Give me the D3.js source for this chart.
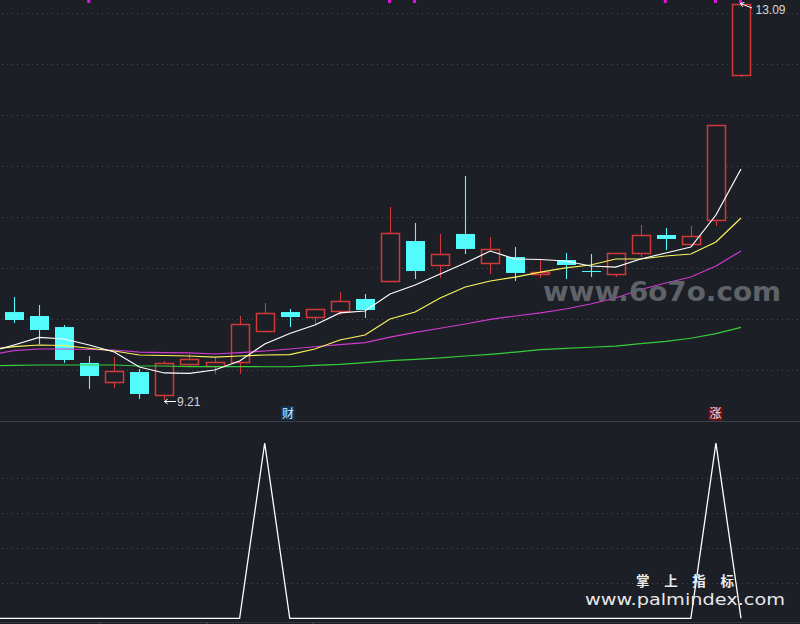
<!DOCTYPE html>
<html><head><meta charset="utf-8">
<script src="https://cdn.jsdelivr.net/npm/d3@7/dist/d3.min.js"></script>
<style>html,body{margin:0;padding:0;background:#1c1f26;overflow:hidden}svg{display:block}</style>
</head><body><svg id="c" width="800" height="624"></svg>
<script>
const opens  = [10.072,10.033,9.925,9.573,9.386,9.484,9.259,9.563,9.543,9.582,9.886,10.072,10.023,10.082,10.200,10.376,10.768,10.533,10.837,10.553,10.611,10.445,10.582,10.474,10.445,10.651,10.827,10.739,10.974,12.395];
const highs  = [10.219,10.141,9.945,9.641,9.631,9.514,9.592,9.661,9.622,10.033,10.161,10.102,10.102,10.268,10.249,11.101,10.945,10.837,11.405,10.807,10.709,10.582,10.651,10.641,10.651,10.925,10.896,10.915,11.905,13.09];
const lows   = [9.965,9.759,9.573,9.318,9.328,9.220,9.21,9.543,9.465,9.465,9.886,9.925,9.945,10.043,10.014,10.376,10.396,10.406,10.641,10.445,10.376,10.406,10.396,10.415,10.415,10.611,10.680,10.719,10.915,12.375];
const closes = [9.994,9.896,9.602,9.445,9.494,9.269,9.573,9.612,9.582,9.955,10.063,10.023,10.102,10.180,10.092,10.847,10.474,10.641,10.690,10.690,10.455,10.464,10.533,10.469,10.651,10.827,10.788,10.817,11.905,13.09];
const ups    = [0,0,0,0,1,0,1,1,1,1,1,0,1,1,0,1,0,1,0,1,0,1,0,0,1,1,0,1,1,1];
// moving averages start one session before the first visible candle
const ma5  = [9.680,9.749,9.823,9.808,9.749,9.680,9.533,9.475,9.470,9.504,9.592,9.759,9.862,9.945,10.063,10.082,10.249,10.337,10.445,10.553,10.670,10.592,10.587,10.572,10.523,10.513,10.592,10.651,10.709,11.023,11.474];
const ma10 = [9.700,9.734,9.749,9.744,9.717,9.690,9.651,9.646,9.641,9.631,9.641,9.651,9.654,9.710,9.798,9.847,10.004,10.072,10.210,10.317,10.376,10.415,10.464,10.504,10.533,10.592,10.592,10.621,10.641,10.758,10.994];
const ma20 = [9.651,9.693,9.710,9.710,9.705,9.700,9.680,9.674,9.671,9.661,9.674,9.690,9.710,9.732,9.752,9.772,9.827,9.873,9.913,9.955,10.001,10.033,10.063,10.102,10.151,10.210,10.293,10.357,10.415,10.523,10.670];
const ma60 = [9.543,9.550,9.553,9.553,9.553,9.553,9.543,9.543,9.538,9.538,9.538,9.536,9.536,9.550,9.560,9.576,9.595,9.609,9.622,9.641,9.658,9.680,9.703,9.715,9.727,9.738,9.762,9.785,9.815,9.860,9.922];
const signal = [0,0,0,0,0,0,0,0,0,0,0,100,0,0,0,0,0,0,0,0,0,0,0,0,0,0,0,0,0,100,0];
const priceTicks = [9.5,10,10.5,11,11.5,12,12.5,13];
const signalTicks = [20,40,60,80];
const topMarks = [3,15,16,26,28,29];
const timeTicks = [3.41,7.68,11.9];
const lowLabel = "9.21", highLabel = "13.09";
const badgeCai = "财", badgeZhang = "涨";
const mark1 = "www.6o7o.com", mark2 = "掌 上 指 标", mark3 = "www.palmindex.com";

const svg = d3.select("#c");
const W = 800, H = 624;
const x = d3.scaleLinear().domain([0,29]).range([14.5,741.5]);
const y = d3.scaleLinear().domain([9.0042,13.13]).range([421,0]);
const y2 = d3.scaleLinear().domain([0,100]).range([618.3,443]);
const n = i => Math.round(i)+0.5;
svg.append("rect").attr("width",W).attr("height",H).attr("fill","#1c1f26");

const gridStyle = s => s.attr("stroke","#474b54").attr("stroke-width",1).attr("stroke-dasharray","1 4");
svg.selectAll(".g1").data(priceTicks).join("line").attr("x1",2).attr("x2",W)
  .attr("y1",d=>n(y(d))).attr("y2",d=>n(y(d))).call(gridStyle);
svg.selectAll(".g2").data(signalTicks).join("line").attr("x1",2).attr("x2",W)
  .attr("y1",d=>n(y2(d))).attr("y2",d=>n(y2(d))).call(gridStyle);

svg.append("line").attr("x1",0).attr("x2",W).attr("y1",421.5).attr("y2",421.5).attr("stroke","#3d404c").attr("stroke-width",1.2);
svg.append("line").attr("x1",0).attr("x2",W).attr("y1",622.5).attr("y2",622.5).attr("stroke","#33363f").attr("stroke-width",1);
svg.selectAll(".tt").data(timeTicks).join("line").attr("x1",d=>x(d)).attr("x2",d=>x(d)).attr("y1",622).attr("y2",624).attr("stroke","#4a4d58");

svg.selectAll(".tm").data(topMarks).join("rect").attr("x",d=>x(d)-2.5).attr("y",0).attr("width",3).attr("height",3).attr("fill","#e810e8");

const RED="#d03a3a", CY="#52fbfc";
const cg = svg.append("g");
d3.range(30).forEach(i=>{
  const col = ups[i]?RED:CY, cx = Math.floor(x(i))+0.5;
  const top = Math.max(opens[i],closes[i]), bot = Math.min(opens[i],closes[i]);
  cg.append("line").attr("x1",cx).attr("x2",cx).attr("y1",y(highs[i])).attr("y2",y(lows[i])).attr("stroke",col).attr("stroke-width",1.1);
  const bh = Math.max(y(bot)-y(top),1);
  if(ups[i]) cg.append("rect").attr("x",cx-9).attr("y",Math.round(y(top))+0.5).attr("width",18).attr("height",Math.round(bh))
     .attr("fill","#1c1f26").attr("stroke",col).attr("stroke-width",1.5);
  else cg.append("rect").attr("x",cx-9.5).attr("y",y(top)).attr("width",19).attr("height",bh).attr("fill",col);
});

const line = (scale)=>d3.line().x((d,i)=>x(i-1)-0.5).y(d=>scale(d));
[[ma60,"#35cf3a"],[ma20,"#cf3acf"],[ma10,"#fbf55a"],[ma5,"#ffffff"]].forEach(([a,c])=>{
  svg.append("path").attr("d",line(y)(a)).attr("fill","none").attr("stroke",c).attr("stroke-width",1.2);
});
svg.append("path").attr("d",line(y2)(signal)).attr("fill","none").attr("stroke","#ffffff").attr("stroke-width",1.3);

// extreme price labels
function arrow(x1,y1,x2,y2){
  const a=Math.atan2(y2-y1,x2-x1), L=4;
  svg.append("path").attr("fill","none").attr("stroke","#fff").attr("stroke-width",1)
    .attr("d",`M${x1},${y1}L${x2},${y2}M${x2+L*Math.cos(a+2.5)},${y2+L*Math.sin(a+2.5)}L${x2},${y2}L${x2+L*Math.cos(a-2.5)},${y2+L*Math.sin(a-2.5)}`);
}
arrow(176,401.5,x(6)-0.5,401.5);
arrow(752,8,x(29)-1,3.5);
const lab=(t,tx,ty,o)=>svg.append("text").attr("x",tx).attr("y",ty).attr("fill",o.fill).attr("font-size",o.size)
  .attr("font-family",o.font||"'Liberation Sans',sans-serif").attr("font-weight",o.weight||"normal").attr("text-anchor",o.anchor||"start")
  .attr("letter-spacing",o.ls||0).text(t);
lab(lowLabel,177,406,{fill:"#d6d6d6",size:12});
lab(highLabel,755.5,14,{fill:"#d6d6d6",size:12});

// badges
svg.append("rect").attr("x",281).attr("y",406).attr("width",14).attr("height",14).attr("fill","#0f3553");
svg.append("rect").attr("x",708.5).attr("y",407).attr("width",14).attr("height",13.5).attr("rx",1).attr("fill","#701015");
lab(badgeCai,288,417.5,{fill:"#d8ecff",size:12,anchor:"middle",font:"'Noto Sans CJK SC'"});
lab(badgeZhang,715.5,418,{fill:"#f4e0e0",size:12,anchor:"middle",font:"'Noto Sans CJK SC'"});

// watermarks
svg.append("text").attr("x",543).attr("y",301).attr("fill","#5f6269").attr("font-size",27).attr("font-weight","bold")
  .attr("font-family","'DejaVu Sans',sans-serif").attr("textLength",238).attr("lengthAdjust","spacingAndGlyphs").text(mark1);
lab(mark2,636,586,{fill:"#ececec",size:13.5,weight:"bold",font:"'Noto Sans CJK SC'",ls:5.8});
svg.append("text").attr("x",585).attr("y",605).attr("fill","#e8e8e8").attr("font-size",16.5)
  .attr("font-family","'DejaVu Sans',sans-serif").attr("textLength",200).attr("lengthAdjust","spacingAndGlyphs").text(mark3);
</script></body></html>
